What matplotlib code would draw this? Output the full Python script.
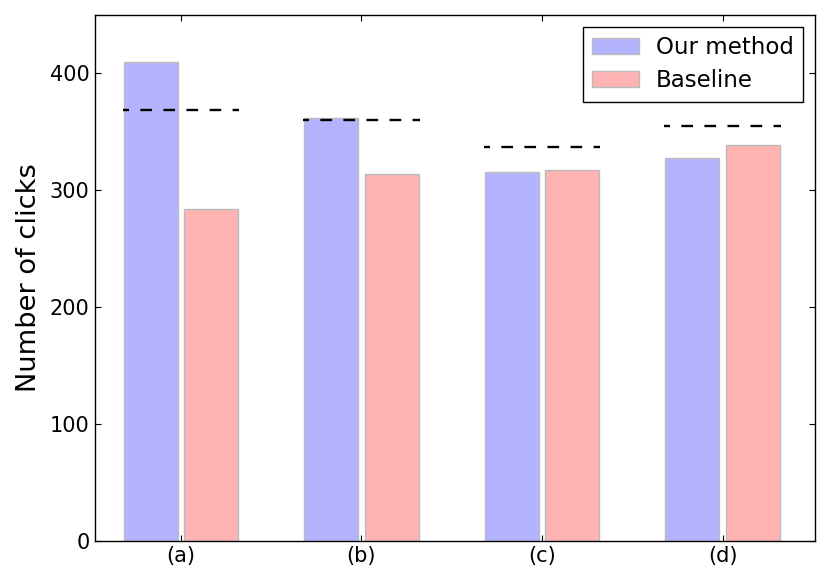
import matplotlib
matplotlib.use("Agg")
import matplotlib.pyplot as plt
import numpy as np

categories = ["(a)", "(b)", "(c)", "(d)"]
our_method = [410, 362, 316, 328]
baseline = [284, 314, 317, 339]
reference = [369, 360, 337, 355]

plt.rcParams['font.family'] = ['DejaVu Sans']
plt.rcParams['lines.scale_dashes'] = False

fig = plt.figure(figsize=(8.3, 5.81), dpi=100)
ax = fig.add_axes([95/830, 1-541/581, 720/830, 526/581])

x = np.arange(len(categories))
w = 0.3
ax.bar(x - 0.167, our_method, w, color='#b3b3ff', edgecolor='#bbbbbb', linewidth=1, label='Our method')
ax.bar(x + 0.167, baseline, w, color='#ffb3b3', edgecolor='#bbbbbb', linewidth=1, label='Baseline')
for xi, r in zip(x, reference):
    ax.plot([xi - 0.322, xi + 0.322], [r, r], color='black', linewidth=1.7,
            linestyle=(4.1, (8.4, 8.2)))

ax.set_xlim(-0.476, 3.512)
ax.set_ylim(0, 450)
ax.set_yticks([0, 100, 200, 300, 400])
ax.set_xticks(x)
ax.set_xticklabels(categories)
ax.tick_params(direction='in', top=True, right=True, labelsize=15, length=4, width=0.8)
ax.tick_params(axis='y', pad=4)
ax.set_ylabel('Number of clicks', fontsize=19.6, labelpad=5.5)
for s in ax.spines.values():
    s.set_linewidth(1)
leg = ax.legend(loc='upper right', fontsize=16.5, fancybox=False, edgecolor='black',
                framealpha=1, borderaxespad=0.52, handlelength=2.05,
                handletextpad=0.74, labelspacing=0.45)
leg.get_frame().set_linewidth(1)

fig.savefig('out.png', dpi=100, facecolor='white')
